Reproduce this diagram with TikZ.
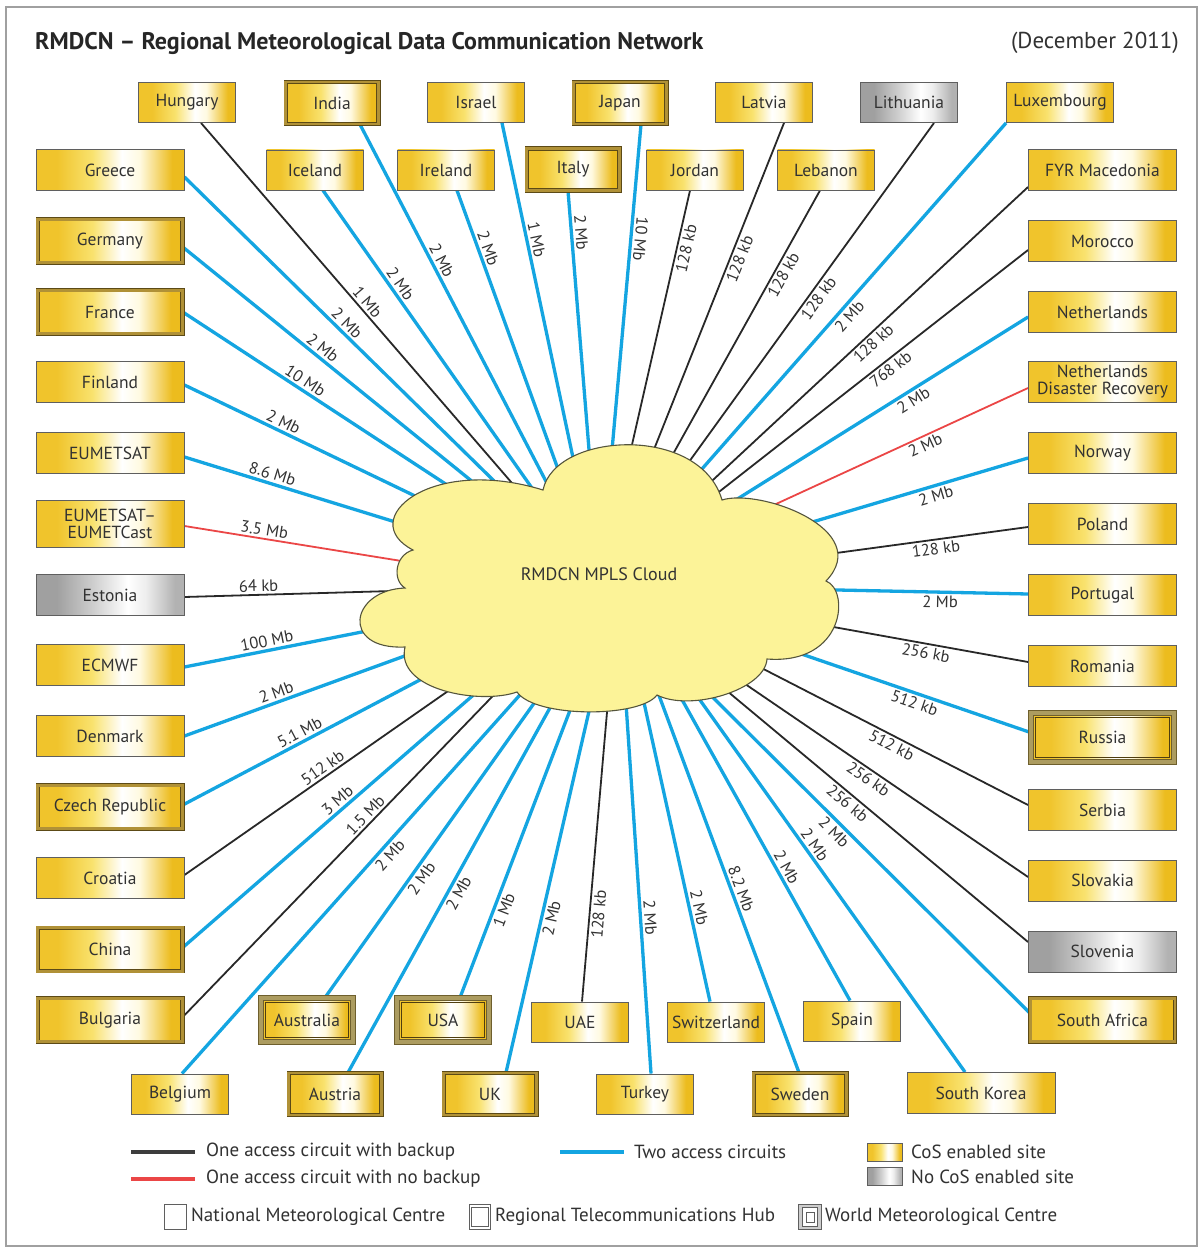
\documentclass[tikz,border=0pt]{standalone}
\usepackage{fontspec}
\setmainfont{PT Sans}
\usetikzlibrary{calc}
\definecolor{txt}{RGB}{50,50,50}
\definecolor{bord}{RGB}{95,95,95}
\definecolor{blu}{RGB}{20,165,225}
\definecolor{blk}{RGB}{40,40,40}
\definecolor{rd}{RGB}{235,70,70}
\definecolor{cloudf}{RGB}{252,243,152}
\definecolor{cloudd}{RGB}{85,85,60}
\definecolor{rthl}{RGB}{92,74,22}
\definecolor{rthb}{RGB}{176,145,55}
\definecolor{wmcl}{RGB}{110,95,45}
\definecolor{wmcb}{RGB}{172,156,96}
\definecolor{wmci}{RGB}{80,62,15}
\definecolor{gA}{RGB}{240,196,44}
\definecolor{gB}{RGB}{249,226,110}
\definecolor{gC}{RGB}{255,250,225}
\definecolor{gD}{RGB}{236,188,30}
\definecolor{yA}{RGB}{160,160,160}
\definecolor{yB}{RGB}{205,205,205}
\definecolor{yC}{RGB}{238,238,238}
\definecolor{yD}{RGB}{178,178,178}
\definecolor{frm}{RGB}{160,160,160}
\pgfdeclarehorizontalshading{goldsh}{100bp}{color(0bp)=(gA); color(25bp)=(gA); color(32bp)=(gA); color(44bp)=(gB); color(54bp)=(white); color(60bp)=(gC); color(71bp)=(gD); color(100bp)=(gD)}
\pgfdeclarehorizontalshading{graysh}{100bp}{color(0bp)=(yA); color(25bp)=(yA); color(32bp)=(yA); color(44bp)=(yB); color(56bp)=(white); color(62bp)=(yC); color(72bp)=(yD); color(100bp)=(yD)}
\newcommand\boxfnt{\fontsize{17.5}{17}\selectfont}
\newcommand\labfnt{\fontsize{16.5}{16.5}\selectfont}
\newcommand\legfnt{\fontsize{19}{19}\selectfont}
\newcommand\cn[6]{\draw[#1] (#2) -- (#3) node[lab, pos=#4, #5] {#6};}
\pgfdeclarelayer{bg}
\pgfdeclarelayer{mid}
\pgfsetlayers{bg,mid,main}
\tikzset{
  bx/.style={draw=bord, line width=0.9pt, shading=goldsh, font=\boxfnt, text=txt, inner sep=1pt, align=center},
  gy/.style={bx, shading=graysh},
  rth/.style={bx, draw=rthl, double=rthb, double distance=2.6pt, line width=0.9pt},
  wmc/.style={bx, draw=wmcl, double=wmcb, double distance=4pt, line width=0.9pt,
    path picture={\draw[wmci, line width=0.8pt] ($(path picture bounding box.south west)+(4.3pt,4.3pt)$) rectangle ($(path picture bounding box.north east)+(-4.3pt,-4.3pt)$);}},
  nw/.style={minimum width=97pt, minimum height=40pt},
  ww/.style={minimum width=148pt, minimum height=41pt},
  nwd/.style={minimum width=92.6pt, minimum height=42pt},
  wwd/.style={minimum width=144.6pt, minimum height=43.5pt},
  nwt/.style={minimum width=92pt, minimum height=44pt},
  lab/.style={sloped, font=\labfnt, text=txt, inner sep=2.2pt},
  bl/.style={blu, line width=3.3pt},
  bk/.style={blk, line width=1.8pt},
  rl/.style={rd, line width=1.8pt},
  legt/.style={anchor=west, font=\legfnt, text=txt, inner sep=0pt},
}
\begin{document}
\begin{tikzpicture}[x=1pt, y=-1pt]
\useasboundingbox (0,0) rectangle (1203,1249);
\begin{pgfonlayer}{bg}
\fill[white] (0,0) rectangle (1203,1249);
\end{pgfonlayer}
\draw[frm, line width=1.2pt] (6,7) rectangle (1197,1246);

\node[anchor=west, font=\fontsize{24}{24}\selectfont\bfseries, text=black!85, inner sep=0pt] (title) at (35,43) {RMDCN \textendash{} Regional Meteorological Data Communication Network};
\node[anchor=east, font=\fontsize{23}{23}\selectfont, text=txt, inner sep=0pt] (date) at (1179,43) {(December 2011)};

% top row 1
\node[bx, nw] (Hungary) at (187,102.5) {Hungary};
\node[rth, nwd] (India) at (332,103) {India};
\node[bx, nw] (Israel) at (476,102.5) {Israel};
\node[rth, nwd] (Japan) at (620,103) {Japan};
\node[bx, nw] (Latvia) at (764,102.5) {Latvia};
\node[gy, nw] (Lithuania) at (909,102.5) {Lithuania};
\node[bx, minimum width=107pt, minimum height=40pt] (Luxembourg) at (1060,102.5) {Luxembourg};
% row 2
\node[bx, nw] (Iceland) at (315,170) {Iceland};
\node[bx, nw] (Ireland) at (446,170) {Ireland};
\node[rth, nwd] (Italy) at (573,169.5) {Italy};
\node[bx, nw] (Jordan) at (695,170) {Jordan};
\node[bx, nw] (Lebanon) at (826,170) {Lebanon};
% left column
\node[bx, ww] (Greece) at (110,170) {Greece};
\node[rth, wwd] (Germany) at (110,241) {Germany};
\node[rth, wwd] (France) at (110,312) {France};
\node[bx, ww] (Finland) at (110,382) {Finland};
\node[bx, ww] (EUMETSAT) at (110,453) {EUMETSAT};
\node[bx, minimum width=148pt, minimum height=47pt] (EUMETCast) at (110,524) {EUMETSAT\textendash\\EUMETCast};
\node[gy, ww] (Estonia) at (110,595) {Estonia};
\node[bx, ww] (ECMWF) at (110,665) {ECMWF};
\node[bx, ww] (Denmark) at (110,736) {Denmark};
\node[rth, wwd] (Czech) at (110,807) {Czech Republic};
\node[bx, ww] (Croatia) at (110,878) {Croatia};
\node[rth, wwd] (China) at (110,949.5) {China};
\node[rth, wwd] (Bulgaria) at (110,1020) {Bulgaria};
% right column
\node[bx, ww] (FYR) at (1102.5,170) {FYR Macedonia};
\node[bx, ww] (Morocco) at (1102.5,241) {Morocco};
\node[bx, ww] (Netherlands) at (1102.5,312) {Netherlands};
\node[bx, ww] (NDR) at (1102.5,382) {Netherlands\\Disaster Recovery};
\node[bx, ww] (Norway) at (1102.5,453) {Norway};
\node[bx, ww] (Poland) at (1102.5,524) {Poland};
\node[bx, ww] (Portugal) at (1102.5,595) {Portugal};
\node[bx, ww] (Romania) at (1102.5,666) {Romania};
\node[wmc, minimum width=143pt, minimum height=49pt] (Russia) at (1102.5,737.5) {Russia};
\node[bx, ww] (Serbia) at (1102.5,810) {Serbia};
\node[bx, ww] (Slovakia) at (1102.5,880.5) {Slovakia};
\node[gy, ww] (Slovenia) at (1102.5,951.5) {Slovenia};
\node[rth, wwd] (SAfrica) at (1102.5,1020) {South Africa};
% bottom rows
\node[wmc, nwt] (Australia) at (307,1020) {Australia};
\node[wmc, nwt] (USA) at (443,1020) {USA};
\node[bx, nw] (UAE) at (580,1022) {UAE};
\node[bx, nw] (Switzerland) at (716,1022) {Switzerland};
\node[bx, nw] (Spain) at (852,1021) {Spain};
\node[bx, nw] (Belgium) at (180,1094) {Belgium};
\node[rth, nwd] (Austria) at (335,1094) {Austria};
\node[rth, nwd] (UK) at (490,1094) {UK};
\node[bx, nw] (Turkey) at (645,1094) {Turkey};
\node[rth, nwd] (Sweden) at (800,1094) {Sweden};
\node[bx, ww] (SKorea) at (981,1093) {South Korea};

\coordinate (F) at (600,585);
\coordinate (Fb) at (618,585);
\coordinate (FE) at (600,593);

\begin{pgfonlayer}{bg}
\cn{bk}{[xshift=14pt]Hungary.south}{F}{0.40}{above}{1 Mb}
\cn{bl}{[xshift=28pt]India.south}{F}{0.305}{above}{2 Mb}
\cn{bl}{[xshift=26pt]Israel.south}{F}{0.257}{above}{1 Mb}
\cn{bl}{[xshift=21pt]Japan.south}{F}{0.247}{above, allow upside down}{10 Mb}
\cn{bk}{[xshift=20pt]Latvia.south}{F}{0.287}{below}{128 kb}
\cn{bk}{[xshift=25pt]Lithuania.south}{F}{0.368}{below}{128 kb}
\cn{bl}{Luxembourg.south west}{F}{0.404}{below}{2 Mb}
\cn{bl}{[xshift=8pt]Iceland.south}{F}{0.251}{above}{2 Mb}
\cn{bl}{[xshift=11pt]Ireland.south}{F}{0.155}{above}{2 Mb}
\cn{bl}{[xshift=-5pt]Italy.south}{F}{0.108}{above}{2 Mb}
\cn{bk}{[xshift=-5pt]Jordan.south}{F}{0.142}{below}{128 kb}
\cn{bk}{[xshift=-6pt]Lebanon.south}{F}{0.2025}{below}{128 kb}
\cn{bl}{[yshift=-7pt]Greece.east}{F}{0.375}{above}{2 Mb}
\cn{bl}{[yshift=-6pt]Germany.east}{F}{0.321}{above}{2 Mb}
\cn{bl}{France.east}{F}{0.281}{above}{10 Mb}
\cn{bl}{[yshift=-3pt]Finland.east}{F}{0.228}{above}{2 Mb}
\cn{bl}{[yshift=-4pt]EUMETSAT.east}{F}{0.205}{above}{8.6 Mb}
\cn{rl}{[yshift=-2pt]EUMETCast.east}{FE}{0.189}{above}{3.5 Mb}
\cn{bk}{[yshift=-2pt]Estonia.east}{F}{0.179}{above}{64 kb}
\cn{bl}{[yshift=-2pt]ECMWF.east}{F}{0.203}{above}{100 Mb}
\cn{bl}{Denmark.east}{F}{0.229}{above}{2 Mb}
\cn{bl}{[yshift=2pt]Czech.east}{F}{0.291}{above}{5.1 Mb}
\cn{bk}{[yshift=3pt]Croatia.east}{F}{0.345}{above}{512 kb}
\cn{bl}{[yshift=2pt]China.east}{F}{0.386}{above}{3 Mb}
\cn{bk}{[yshift=3pt]Bulgaria.east}{F}{0.453}{above}{1.5 Mb}
\cn{bl}{[xshift=2pt]Belgium.north}{Fb}{0.46}{below}{2 Mb}
\cn{bl}{[xshift=18pt]Australia.north}{Fb}{0.302}{below}{2 Mb}
\cn{bl}{[xshift=13pt]Austria.north}{Fb}{0.378}{below}{2 Mb}
\cn{bl}{[xshift=17pt]USA.north}{Fb}{0.22}{below}{1 Mb}
\cn{bl}{[xshift=16pt]UK.north}{Fb}{0.321}{below}{2 Mb}
\cn{bk}{[xshift=2pt]UAE.north}{Fb}{0.211}{below}{128 kb}
\cn{bl}{[xshift=6pt]Turkey.north}{Fb}{0.318}{above}{2 Mb}
\cn{bl}{[xshift=-6pt]Switzerland.north}{Fb}{0.22}{above}{2 Mb}
\cn{bl}{[xshift=-1pt]Sweden.north}{Fb}{0.37}{above}{8.2 Mb}
\cn{bl}{[xshift=-2pt]Spain.north}{Fb}{0.309}{above}{2 Mb}
\cn{bl}{[xshift=-16pt]SKorea.north}{Fb}{0.4555}{above}{2 Mb}
\cn{bl}{[yshift=7pt]SAfrica.west}{F}{0.439}{below}{2 Mb}
\cn{bk}{[yshift=9.5pt]Slovenia.west}{F}{0.408}{below}{256 kb}
\cn{bk}{[yshift=3.5pt]Slovakia.west}{F}{0.361}{below}{256 kb}
\cn{bk}{[yshift=5pt]Serbia.west}{F}{0.309}{below}{512 kb}
\cn{bl}{[yshift=5pt]Russia.west}{F}{0.262}{below}{512 kb}
\cn{bk}{[yshift=4pt]Romania.west}{F}{0.235}{below}{256 kb}
\cn{bl}{[yshift=1pt]Portugal.west}{F}{0.205}{below}{2 Mb}
\cn{bk}{[yshift=-3pt]Poland.west}{F}{0.218}{below}{128 kb}
\cn{bl}{[yshift=-5pt]Norway.west}{F}{0.222}{below}{2 Mb}
\cn{rl}{[yshift=-6pt]NDR.west}{F}{0.249}{below}{2 Mb}
\cn{bl}{[yshift=-5pt]Netherlands.west}{F}{0.28}{below}{2 Mb}
\cn{bk}{[yshift=-9pt]Morocco.west}{F}{0.334}{below}{768 kb}
\cn{bk}{[yshift=-17pt]FYR.west}{F}{0.376}{below}{128 kb}
\end{pgfonlayer}

\begin{pgfonlayer}{mid}
\draw[cloudd, fill=cloudf, line width=1.1pt]
 (543,490) .. controls (555,432) and (700,424) .. (722,500)
 .. controls (760,488) and (875,530) .. (826,581)
 .. controls (850,590) and (845,665) .. (767,659)
 .. controls (765,690) and (690,712) .. (657,695)
 .. controls (640,718) and (535,718) .. (517,692)
 .. controls (480,705) and (395,690) .. (405,647)
 .. controls (340,650) and (350,590) .. (405,588)
 .. controls (392,580) and (395,555) .. (413,550)
 .. controls (355,520) and (430,455) .. (543,490) -- cycle;
\end{pgfonlayer}
\node[font=\fontsize{18}{18}\selectfont, text=txt] (cloud) at (599,574) {RMDCN MPLS Cloud};

% legend
\draw[blk!90, line width=3.5pt] (131,1152) -- (195,1152);
\draw[rd, line width=3.5pt] (131,1179) -- (195,1179);
\draw[blu, line width=4.5pt] (560,1152) -- (624,1152);
\node[legt] (l1) at (206,1152) {One access circuit with backup};
\node[legt] (l2) at (206,1179) {One access circuit with no backup};
\node[legt] (l3) at (634,1152) {Two access circuits};
\node[draw=bord, line width=0.9pt, shading=goldsh, minimum width=35pt, minimum height=18pt, inner sep=0pt] (sw1) at (885,1152) {};
\node[draw=bord, line width=0.9pt, shading=graysh, minimum width=35pt, minimum height=18pt, inner sep=0pt] (sw2) at (885,1176) {};
\node[legt] (l4) at (911,1152) {CoS enabled site};
\node[legt] (l5) at (911,1177) {No CoS enabled site};
\node[draw=bord, line width=1pt, minimum width=22pt, minimum height=25pt, inner sep=0pt] (ic1) at (175,1217) {};
\node[draw=bord, double=white, double distance=1.6pt, line width=0.9pt, minimum width=19pt, minimum height=22pt, inner sep=0pt] (ic2) at (480,1217) {};
\node[draw=bord, double=yB, double distance=2.4pt, line width=0.9pt, minimum width=19pt, minimum height=22pt, inner sep=0pt] (ic3) at (810,1217) {};
\node[draw=bord, line width=0.9pt, minimum width=8pt, minimum height=10pt, inner sep=0pt] (ic3i) at (810,1217) {};
\node[legt] (l6) at (191,1217) {National Meteorological Centre};
\node[legt] (l7) at (495,1217) {Regional Telecommunications Hub};
\node[legt] (l8) at (825,1217) {World Meteorological Centre};
\end{tikzpicture}
\end{document}
